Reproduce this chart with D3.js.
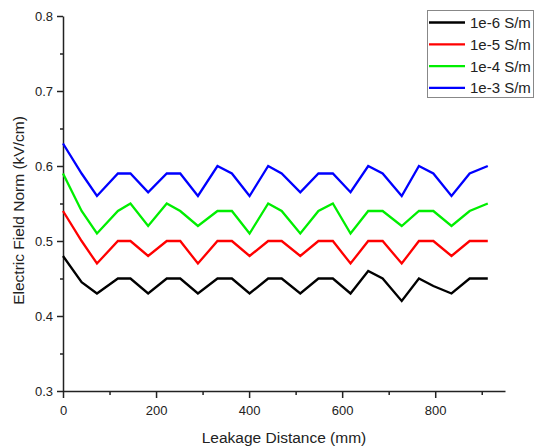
<!DOCTYPE html>
<html>
<head>
<meta charset="utf-8">
<script src="https://cdn.jsdelivr.net/npm/d3@7"></script>
<style>
  body { margin: 0; background: #fff; }
  text { font-family: "Liberation Sans", Arial, sans-serif; fill: #222; }
  .axis path, .axis line { stroke: #222; stroke-width: 1.5; }
</style>
</head>
<body>
<div id="chart"></div>
<script>
// data

let distance = [0, 40, 73, 118, 145, 183, 223, 252, 290, 332, 363, 401, 441,
  470, 510, 549, 580, 618, 656, 687, 728, 765, 796, 835, 874, 913];

let field6 = [0.48, 0.445, 0.43, 0.45, 0.45, 0.43, 0.45, 0.45, 0.43, 0.45, 0.45, 0.43, 0.45,
  0.45, 0.43, 0.45, 0.45, 0.43, 0.46, 0.45, 0.42, 0.45, 0.44, 0.43, 0.45, 0.45];
let field5 = [0.54, 0.50, 0.47, 0.50, 0.50, 0.48, 0.50, 0.50, 0.47, 0.50, 0.50, 0.48, 0.50,
  0.50, 0.48, 0.50, 0.50, 0.47, 0.50, 0.50, 0.47, 0.50, 0.50, 0.48, 0.50, 0.50];
let field4 = [0.59, 0.54, 0.51, 0.54, 0.55, 0.52, 0.55, 0.54, 0.52, 0.54, 0.54, 0.51, 0.55,
  0.54, 0.51, 0.54, 0.55, 0.51, 0.54, 0.54, 0.52, 0.54, 0.54, 0.52, 0.54, 0.55];
let field3 = [0.63, 0.59, 0.56, 0.59, 0.59, 0.565, 0.59, 0.59, 0.56, 0.60, 0.59, 0.56, 0.60,
  0.59, 0.565, 0.59, 0.59, 0.565, 0.60, 0.59, 0.56, 0.60, 0.59, 0.56, 0.59, 0.60];

let seriesNames = ["1e-6 S/m", "1e-5 S/m", "1e-4 S/m", "1e-3 S/m"];
let seriesColors = ["#000000", "#ff0000", "#00ee00", "#0000ff"];

let xTicks = [0, 200, 400, 600, 800];
let xMinor = [100, 300, 500, 700, 900];
let yTicks = [0.3, 0.4, 0.5, 0.6, 0.7, 0.8];
let yMinor = [0.35, 0.45, 0.55, 0.65, 0.75];

// set svg and dimensions of chart

var svgWidth = 536;
var svgHeight = 448;

let chartMargin = { top: 16, right: 31, bottom: 57, left: 63 };

let width = svgWidth - chartMargin.left - chartMargin.right;
let height = svgHeight - chartMargin.top - chartMargin.bottom;

let svg = d3.select("#chart")
  .append("svg")
  .attr("width", svgWidth)
  .attr("height", svgHeight);

let chartGroup = svg.append("g")
  .attr("transform", `translate(${chartMargin.left}, ${chartMargin.top})`);

// scales

let xLinearScale = d3.scaleLinear()
  .domain([0, 950])
  .range([0, width]);

let yLinearScale = d3.scaleLinear()
  .domain([0.3, 0.8])
  .range([height, 0]);

// minor ticks first, then major axes on top

chartGroup.append("g")
  .attr("class", "axis")
  .attr("transform", `translate(0, ${height})`)
  .call(d3.axisBottom(xLinearScale).tickValues(xMinor).tickSize(4).tickFormat(""))
  .select(".domain").remove();

chartGroup.append("g")
  .attr("class", "axis")
  .call(d3.axisLeft(yLinearScale).tickValues(yMinor).tickSize(3).tickFormat(""))
  .select(".domain").remove();

let xAxis = d3.axisBottom(xLinearScale)
  .tickValues(xTicks)
  .tickSize(7)
  .tickPadding(8)
  .tickSizeOuter(0);

let yAxis = d3.axisLeft(yLinearScale)
  .tickValues(yTicks)
  .tickSize(6)
  .tickPadding(4)
  .tickSizeOuter(0)
  .tickFormat(d3.format(".1f"));

chartGroup.append("g")
  .attr("class", "axis")
  .call(yAxis)
  .selectAll("text")
  .style("font-size", "13px");

chartGroup.append("g")
  .attr("class", "axis")
  .attr("transform", `translate(0, ${height})`)
  .call(xAxis)
  .selectAll("text")
  .style("font-size", "13px");

// lines

let allSeries = [field6, field5, field4, field3];

let line = d3.line()
  .x((d, i) => xLinearScale(distance[i]))
  .y(d => yLinearScale(d));

chartGroup.selectAll(".series")
  .data(allSeries)
  .enter()
  .append("path")
  .attr("class", "series")
  .attr("d", d => line(d))
  .attr("fill", "none")
  .attr("stroke", (d, i) => seriesColors[i])
  .attr("stroke-width", 2.3)
  .attr("stroke-linejoin", "miter");

// axes labels

svg.append("text")
  .attr("transform", `translate(24, ${chartMargin.top + height / 2 + 7}) rotate(-90)`)
  .attr("text-anchor", "middle")
  .style("font-size", "15.5px")
  .text("Electric Field Norm (kV/cm)");

svg.append("text")
  .attr("x", chartMargin.left + 221)
  .attr("y", 443)
  .attr("text-anchor", "middle")
  .style("font-size", "15.5px")
  .text("Leakage Distance (mm)");

// legend

let legend = svg.append("g")
  .attr("transform", "translate(427, 10)");

legend.append("rect")
  .attr("x", 0.5)
  .attr("y", 0.5)
  .attr("width", 106)
  .attr("height", 87)
  .attr("fill", "#fff")
  .attr("stroke", "#888")
  .attr("stroke-width", 1);

let rows = legend.selectAll(".row")
  .data(seriesNames)
  .enter()
  .append("g")
  .attr("class", "row")
  .attr("transform", (d, i) => `translate(0, ${12.5 + i * 21.8})`);

rows.append("line")
  .attr("x1", 2)
  .attr("x2", 38)
  .attr("stroke", (d, i) => seriesColors[i])
  .attr("stroke-width", 2.3);

rows.append("text")
  .attr("x", 43)
  .attr("dy", "0.36em")
  .style("font-size", "15px")
  .text(d => d);
</script>
</body>
</html>
